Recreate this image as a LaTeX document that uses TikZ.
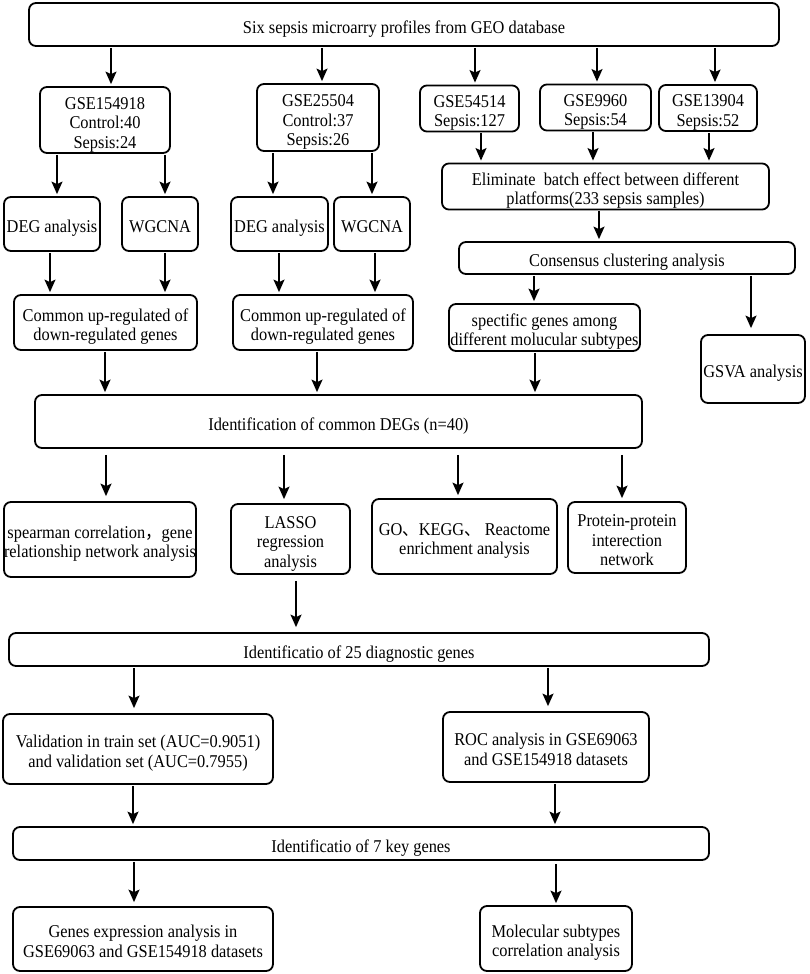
\documentclass[tikz,border=0pt]{standalone}
\usepackage{fontspec}
\setmainfont{Liberation Serif}[FakeStretch=0.91]
\newfontfamily\cjkfont{Noto Sans CJK SC}[FakeStretch=0.91]
\usetikzlibrary{arrows.meta}
\newcommand\figfont{\fontsize{18}{19.5}\selectfont}
\newcommand\topst{\rule{0pt}{22pt}}
\newcommand\botst{\rule[-4.6pt]{0pt}{4.6pt}}
\begin{document}
\begin{tikzpicture}[x=1pt,y=-1pt,
  box/.style={draw, line width=1.8pt, rounded corners=7pt, inner sep=0pt, align=center, font=\figfont},
  wh/.style 2 args={minimum width=#1pt, minimum height=#2pt},
  arr/.style={line width=1.5pt, -{Stealth[length=12.5pt,width=11pt,inset=2.5pt]}, shorten >=2pt, shorten <=1pt}]
\useasboundingbox (0,0) rectangle (809,974);
\fill[white] (0,0) rectangle (809,974);

\node[box, wh={750}{43}] (top) at (404,24.5) {\topst Six sepsis microarry profiles from GEO database\botst};
\node[box, wh={130}{66}] (g1) at (105,120) {\topst GSE154918\\Control:40\\Sepsis:24\botst};
\node[box, wh={122}{67}] (g2) at (318,117.5) {\topst GSE25504\\Control:37\\Sepsis:26\botst};
\node[box, wh={99}{45}] (g3) at (469.5,108.5) {\topst GSE54514\\Sepsis:127\botst};
\node[box, wh={111}{45}] (g4) at (595.5,107.5) {\topst GSE9960\\Sepsis:54\botst};
\node[box, wh={98}{46}] (g5) at (708,108) {\topst GSE13904\\Sepsis:52\botst};
\node[box, wh={327}{43}] (elim) at (605.5,186.5) {\topst Eliminate \ batch effect between different\\platforms(233 sepsis samples)\botst};
\node[box, wh={336}{32}] (cons) at (627,258) {\topst Consensus clustering analysis\botst};
\node[box, wh={96}{54}] (deg1) at (52,224) {\topst DEG analysis\botst};
\node[box, wh={76}{54}] (wg1) at (160,224) {\topst WGCNA\botst};
\node[box, wh={97}{54}] (deg2) at (279.5,224) {\topst DEG analysis\botst};
\node[box, wh={76}{54}] (wg2) at (372,224) {\topst WGCNA\botst};
\node[box, wh={183}{55}] (com1) at (105.5,322.5) {\topst Common up-regulated of\\down-regulated genes\botst};
\node[box, wh={180}{55}] (com2) at (323,322.5) {\topst Common up-regulated of\\down-regulated genes\botst};
\node[box, wh={191}{47}] (spec) at (544.5,327.5) {\topst spectific genes among\\different molucular subtypes\botst};
\node[box, wh={104}{68}] (gsva) at (753,369) {\topst GSVA analysis\botst};
\node[box, wh={607}{53}] (ident) at (338.5,421.5) {\topst Identification of common DEGs (n=40)\botst};
\node[box, wh={192}{75}] (spear) at (100,539.5) {\topst spearman correlation{\cjkfont ，}gene\\relationship network analysis\botst};
\node[box, wh={119}{70}] (lasso) at (290.5,539) {\topst LASSO\\regression\\analysis\botst};
\node[box, wh={185}{75}] (go) at (464.5,536.5) {\topst GO{\cjkfont 、}KEGG{\cjkfont 、} Reactome\\enrichment analysis\botst};
\node[box, wh={118}{71}] (prot) at (627,537.5) {\topst Protein-protein\\interection\\network\botst};
\node[box, wh={700}{33}] (id25) at (359,649.5) {\topst Identificatio of 25 diagnostic genes\botst};
\node[box, wh={270}{70}] (valid) at (138,749) {\topst Validation in train set (AUC=0.9051)\\and validation set (AUC=0.7955)\botst};
\node[box, wh={206}{70}] (roc) at (546,747) {\topst ROC analysis in GSE69063\\and GSE154918 datasets\botst};
\node[box, wh={696}{33}] (id7) at (361,843.5) {\topst Identificatio of 7 key genes\botst};
\node[box, wh={260}{64}] (genes) at (143,939) {\topst Genes expression analysis in\\GSE69063 and GSE154918 datasets\botst};
\node[box, wh={152}{65}] (mol) at (556,938.5) {\topst Molecular subtypes\\correlation analysis\botst};

\draw[arr] (top.south -| 111,0) -- (g1.north -| 111,0);
\draw[arr] (top.south -| 322,0) -- (g2.north -| 322,0);
\draw[arr] (top.south -| 475,0) -- (g3.north -| 475,0);
\draw[arr] (top.south -| 597,0) -- (g4.north -| 597,0);
\draw[arr] (top.south -| 715,0) -- (g5.north -| 715,0);

\draw[arr] (g1.south -| 57,0) -- (deg1.north -| 57,0);
\draw[arr] (g1.south -| 165,0) -- (wg1.north -| 165,0);
\draw[arr] (g2.south -| 273,0) -- (deg2.north -| 273,0);
\draw[arr] (g2.south -| 372,0) -- (wg2.north -| 372,0);

\draw[arr] (g3.south -| 481,0) -- (elim.north -| 481,0);
\draw[arr] (g4.south -| 593,0) -- (elim.north -| 593,0);
\draw[arr] (g5.south -| 709,0) -- (elim.north -| 709,0);
\draw[arr] (elim.south -| 599,0) -- (cons.north -| 599,0);

\draw[arr] (deg1.south -| 50,0) -- (com1.north -| 50,0);
\draw[arr] (wg1.south -| 165,0) -- (com1.north -| 165,0);
\draw[arr] (deg2.south -| 279,0) -- (com2.north -| 279,0);
\draw[arr] (wg2.south -| 375,0) -- (com2.north -| 375,0);

\draw[arr] (cons.south -| 534,0) -- (spec.north -| 534,0);
\draw[arr, shorten >=6pt] (cons.south -| 751,0) -- (gsva.north -| 751,0);

\draw[arr] (com1.south -| 105,0) -- (ident.north -| 105,0);
\draw[arr] (com2.south -| 317,0) -- (ident.north -| 317,0);
\draw[arr] (spec.south -| 535,0) -- (ident.north -| 535,0);

\draw[arr, shorten <=6pt, shorten >=5pt] (ident.south -| 106,0) -- (spear.north -| 106,0);
\draw[arr, shorten <=6pt, shorten >=4pt] (ident.south -| 284,0) -- (lasso.north -| 284,0);
\draw[arr, shorten <=6pt, shorten >=3pt] (ident.south -| 458,0) -- (go.north -| 458,0);
\draw[arr, shorten <=6pt, shorten >=3pt] (ident.south -| 622,0) -- (prot.north -| 622,0);

\draw[arr, shorten <=6pt, shorten >=5pt] (lasso.south -| 296,0) -- (id25.north -| 296,0);
\draw[arr, shorten >=5pt] (id25.south -| 134,0) -- (valid.north -| 134,0);
\draw[arr, shorten >=5pt] (id25.south -| 548,0) -- (roc.north -| 548,0);
\draw[arr] (valid.south -| 133,0) -- (id7.north -| 133,0);
\draw[arr] (roc.south -| 555,0) -- (id7.north -| 555,0);
\draw[arr, shorten >=4pt] (id7.south -| 134,0) -- (genes.north -| 134,0);
\draw[arr, shorten >=2pt, shorten <=3pt] (id7.south -| 556,0) -- (mol.north -| 556,0);
\end{tikzpicture}
\end{document}
